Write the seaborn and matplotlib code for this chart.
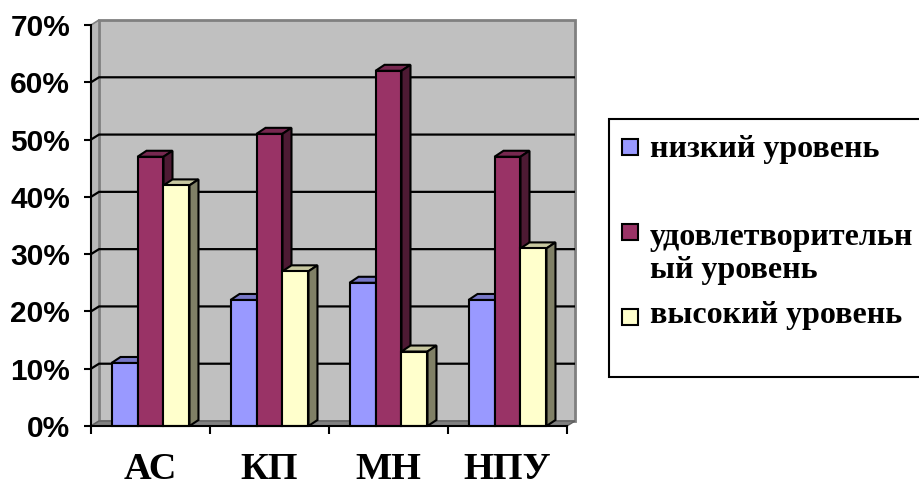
import matplotlib
matplotlib.use("Agg")
import matplotlib.pyplot as plt
import seaborn as sns
import pandas as pd
import numpy as np
from matplotlib.patches import Polygon, Rectangle
from matplotlib.ticker import PercentFormatter, FixedLocator
from matplotlib.colors import to_rgb

# Survey results by group
categories = ["АС", "КП", "МН", "НПУ"]
series = ["низкий уровень", "удовлетворительный уровень", "высокий уровень"]
legend_lines = [["низкий уровень"], ["удовлетворительн", "ый уровень"], ["высокий уровень"]]
low = [0.11, 0.22, 0.25, 0.22]
satisfactory = [0.47, 0.51, 0.62, 0.47]
high = [0.42, 0.27, 0.13, 0.31]
colors = ["#9999ff", "#993366", "#ffffcc"]

df = pd.DataFrame({
    "group": categories * 3,
    "level": np.repeat(series, len(categories)),
    "share": low + satisfactory + high,
})

sns.set_theme(style="white")
plt.rcParams["font.family"] = ["Liberation Sans", "DejaVu Sans"]

W, H = 919, 483
fig = plt.figure(figsize=(W / 100, H / 100), dpi=100)
L, R, B, T = 91, 567, 426, 25
ax = fig.add_axes([L / W, 1 - B / H, (R - L) / W, (B - T) / H])
ax.set_facecolor("none")

sns.barplot(data=df, x="group", y="share", hue="level", hue_order=series,
            order=categories, palette=colors, width=0.655, gap=0,
            saturation=1, edgecolor="black", linewidth=1.5,
            legend=False, ax=ax)
bars = sorted(list(ax.patches), key=lambda p: p.get_x())

ax.set_xlim(-0.5, 3.5)
ax.set_ylim(0, 0.70)
px_x = 4 / (R - L)
px_y = 0.70 / (B - T)

# depth offsets for the pseudo-3D look
dxw, dyw = 8 * px_x, 5 * px_y    # walls
dxb, dyb = 9 * px_x, 6 * px_y    # bars

wall_gray = "#c0c0c0"
# back wall
ax.add_patch(Rectangle((-0.5 + dxw, dyw), 4, 0.70, facecolor=wall_gray,
                       edgecolor="#808080", lw=2, zorder=0.2, clip_on=False))
# left wall
ax.add_patch(Polygon([(-0.5, 0), (-0.5 + dxw, dyw), (-0.5 + dxw, 0.70 + dyw), (-0.5, 0.70)],
                     closed=True, facecolor="#b8b8b8", edgecolor="#808080", lw=1.2,
                     zorder=0.3, clip_on=False))
# floor
ax.add_patch(Polygon([(-0.5, 0), (3.5, 0), (3.5 + dxw, dyw), (-0.5 + dxw, dyw)],
                     closed=True, facecolor="#808080", edgecolor="#606060", lw=1,
                     zorder=0.4, clip_on=False))
# gridlines on the walls
for v in np.arange(0.1, 0.65, 0.1):
    ax.plot([-0.5, -0.5 + dxw, 3.5 + dxw], [v, v + dyw, v + dyw], color="black",
            lw=1.6, zorder=0.5, clip_on=False, solid_capstyle="butt")

# bars with top and side faces
z = 3
for p in bars:
    x0, w, h = p.get_x(), p.get_width(), p.get_height()
    rgb = np.array(to_rgb(p.get_facecolor()))
    top = Polygon([(x0, h), (x0 + w, h), (x0 + w + dxb, h + dyb), (x0 + dxb, h + dyb)],
                  closed=True, facecolor=rgb * 0.78, edgecolor="black", lw=1.5,
                  zorder=z, clip_on=False, joinstyle="miter")
    side = Polygon([(x0 + w, 0), (x0 + w + dxb, dyb), (x0 + w + dxb, h + dyb), (x0 + w, h)],
                   closed=True, facecolor=rgb * 0.5, edgecolor="black", lw=1.5,
                   zorder=z, clip_on=False, joinstyle="miter")
    ax.add_patch(top)
    ax.add_patch(side)
    p.set_zorder(z + 0.5)
    p.set_clip_on(False)
    z += 1

# axes
for s in ["top", "right"]:
    ax.spines[s].set_visible(False)
for s in ["left", "bottom"]:
    ax.spines[s].set_color("black")
    ax.spines[s].set_linewidth(1.5)
    ax.spines[s].set_zorder(20)

ax.yaxis.set_major_locator(FixedLocator(np.arange(0, 0.71, 0.1)))
ax.yaxis.set_major_formatter(PercentFormatter(1.0, decimals=0))
ax.tick_params(axis="y", left=True, direction="out", length=5, width=1.5,
               color="black", pad=10, labelsize=21.5)
for lab in ax.get_yticklabels():
    lab.set_fontweight("bold")
    lab.set_color("black")

ax.set_xticks(range(len(categories)))
ax.set_xticklabels(categories)
ax.xaxis.set_minor_locator(FixedLocator(np.arange(-0.5, 3.6, 1.0)))
ax.tick_params(axis="x", which="major", bottom=False, length=0, pad=19)
ax.tick_params(axis="x", which="minor", bottom=True, direction="out", length=6,
               width=1.5, color="black")
for lab in ax.get_xticklabels():
    lab.set_fontfamily(["Liberation Serif", "DejaVu Serif"])
    lab.set_fontweight("bold")
    lab.set_fontsize(27.5)
    lab.set_color("black")
ax.set_xlabel("")
ax.set_ylabel("")

# legend box
fig.add_artist(Rectangle((609 / W, 1 - 377 / H), (930 - 609) / W, (377 - 119) / H,
                         transform=fig.transFigure, facecolor="white",
                         edgecolor="black", lw=1.5, zorder=1, clip_on=False))
sq = 16
square_centers = [147, 232, 317]
text_baselines = [[157], [245, 278], [323]]
for lines, col, cy, bys in zip(legend_lines, colors, square_centers, text_baselines):
    fig.add_artist(Rectangle((622 / W, 1 - (cy + sq / 2) / H), sq / W, sq / H,
                             transform=fig.transFigure, facecolor=col,
                             edgecolor="black", lw=1.5, zorder=2))
    for line, by in zip(lines, bys):
        fig.text(650 / W, 1 - by / H, line, fontsize=23, fontweight="bold",
                 family=["Liberation Serif", "DejaVu Serif"], va="baseline",
                 ha="left", color="black", zorder=3)

fig.savefig("out.png", dpi=100, facecolor="white")
